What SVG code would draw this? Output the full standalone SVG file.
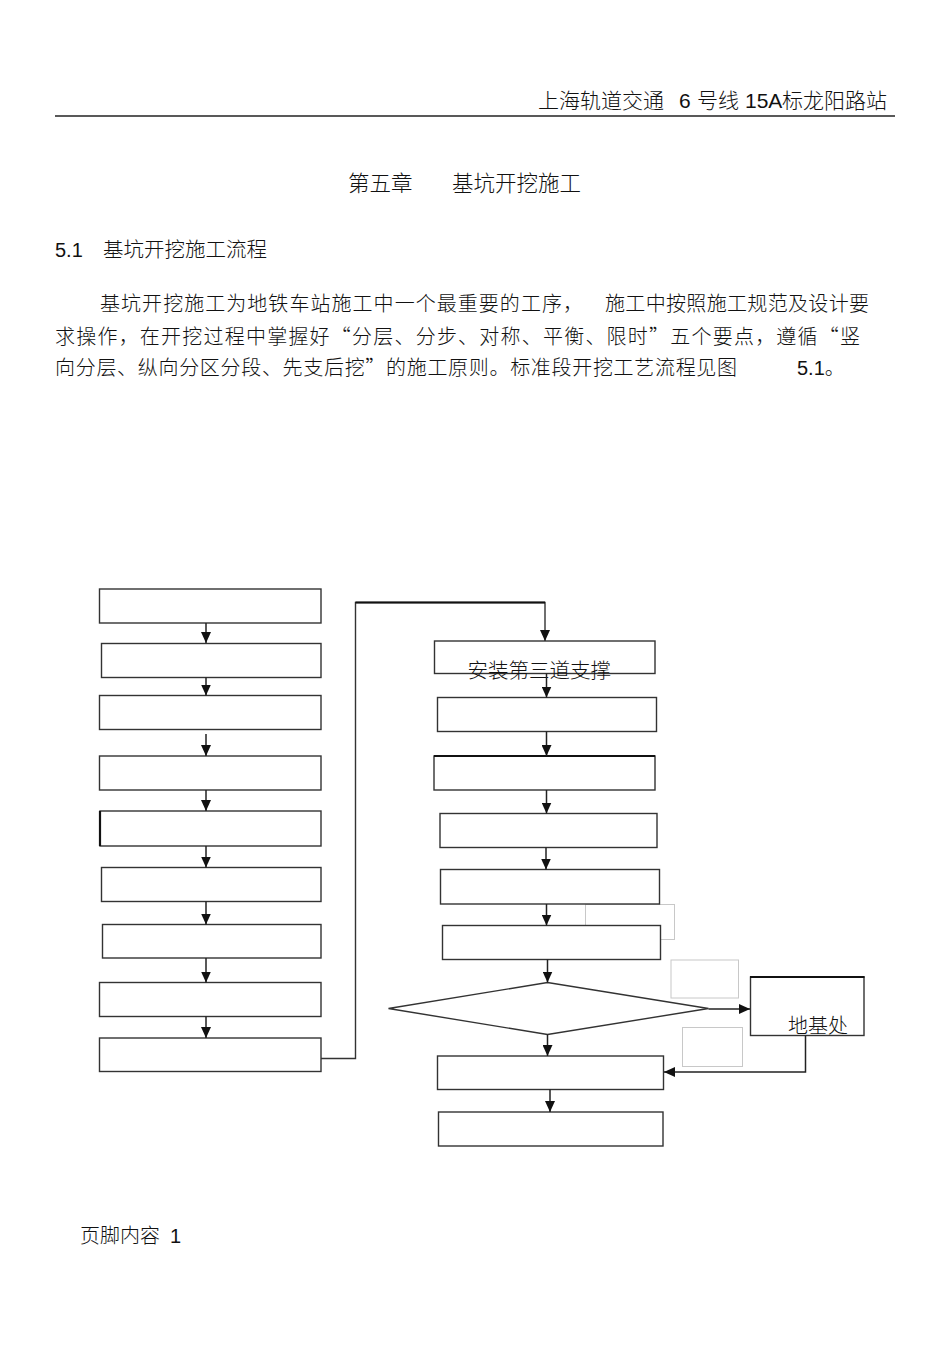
<svg xmlns="http://www.w3.org/2000/svg" width="950" height="1345" viewBox="0 0 950 1345">
<defs>
<style>
.t{font-family:"Liberation Sans","Noto Sans CJK SC",sans-serif;fill:#111;font-weight:300}
.p{font-family:"Noto Sans CJK SC",sans-serif;fill:#111;font-weight:300}
.b{fill:#fff;stroke:#333;stroke-width:1.4}
.g{fill:none;stroke:#c8c8c8;stroke-width:1}
.c{fill:none;stroke:#222;stroke-width:1.5}
</style>
<marker id="ah" markerUnits="userSpaceOnUse" markerWidth="11" markerHeight="10" refX="11" refY="5" orient="auto">
<path d="M0,0 L11,5 L0,10 z" fill="#111"/>
</marker>
</defs>
<rect width="950" height="1345" fill="#fff"/>

<g id="header">
<text class="t" x="538" y="108" font-size="21">上海轨道交通</text>
<text class="t" x="679" y="108" font-size="21">6</text>
<text class="t" x="697" y="108" font-size="21">号线</text>
<text class="t" x="745" y="108" font-size="21">15A</text>
<text class="t" x="782" y="108" font-size="21">标龙阳路站</text>
<line x1="55" y1="116" x2="895" y2="116" stroke="#222" stroke-width="1.3"/>
</g>

<g id="title">
<text class="t" x="348" y="191" font-size="21.5">第五章</text>
<text class="t" x="452" y="191" font-size="21.5">基坑开挖施工</text>
<text class="t" x="55" y="257" font-size="20">5.1</text>
<text class="t" x="103" y="257" font-size="20.5">基坑开挖施工流程</text>
</g>

<g id="paragraph">
<text class="p" x="100" y="311" font-size="20" textLength="483" lengthAdjust="spacing">基坑开挖施工为地铁车站施工中一个最重要的工序，</text>
<text class="p" x="605" y="311" font-size="20" textLength="264" lengthAdjust="spacing">施工中按照施工规范及设计要</text>
<text class="p" x="55" y="344" font-size="20" textLength="805" lengthAdjust="spacing">求操作，在开挖过程中掌握好“分层、分步、对称、平衡、限时”五个要点，遵循“竖</text>
<text class="p" x="55" y="375" font-size="20" textLength="682" lengthAdjust="spacing">向分层、纵向分区分段、先支后挖”的施工原则。标准段开挖工艺流程见图</text>
<text class="t" x="797" y="375" font-size="20">5.1。</text>
</g>

<g id="ghosts">
<rect class="g" x="585.5" y="904.5" width="89" height="35"/>
<rect class="g" x="671" y="960" width="67.5" height="38"/>
<rect class="g" x="682.5" y="1027.5" width="60" height="39"/>
</g>

<g id="L1"><rect class="b" x="99.5" y="589" width="221.5" height="34"/></g>
<g id="L2"><rect class="b" x="101.5" y="643.5" width="219.5" height="34"/></g>
<g id="L3"><rect class="b" x="99.5" y="695.5" width="221.5" height="34"/></g>
<g id="L4"><rect class="b" x="99.5" y="756" width="221.5" height="34"/></g>
<g id="L5"><rect class="b" x="100" y="811" width="221" height="35"/>
<line x1="100" y1="811" x2="100" y2="846" stroke="#111" stroke-width="2.2"/></g>
<g id="L6"><rect class="b" x="101.5" y="867.5" width="219.5" height="34"/></g>
<g id="L7"><rect class="b" x="102.5" y="924.5" width="218.5" height="33.5"/></g>
<g id="L8"><rect class="b" x="99.5" y="982.5" width="221.5" height="34" stroke-width="1.9"/></g>
<g id="L9"><rect class="b" x="99.5" y="1038" width="221.5" height="33.5"/></g>

<g id="R1"><rect class="b" x="434.5" y="641" width="220.5" height="32.5"/>
<text class="t" x="467.5" y="678" font-size="20.5">安装第三道支撑</text></g>
<g id="R2"><rect class="b" x="437.5" y="697.5" width="219" height="34"/></g>
<g id="R3"><rect class="b" x="434" y="756" width="221" height="34"/>
<line x1="434" y1="756" x2="655" y2="756" stroke="#111" stroke-width="2"/></g>
<g id="R4"><rect class="b" x="440" y="813.5" width="217" height="34"/></g>
<g id="R5"><rect class="b" x="440.5" y="869.5" width="219" height="34.5" stroke-width="1.7"/></g>
<g id="R6"><rect class="b" x="442.5" y="925.5" width="218" height="34"/></g>
<g id="D1"><polygon class="b" points="388.5,1008.5 547.5,982.5 708.5,1008.5 547.5,1034.5" stroke="#444" stroke-width="1.5"/></g>
<g id="X1"><rect class="b" x="750.5" y="977" width="113.5" height="58.5"/>
<line x1="750" y1="977" x2="864.5" y2="977" stroke="#111" stroke-width="2"/>
<text class="t" x="788" y="1033" font-size="20">地基处</text></g>
<g id="R7"><rect class="b" x="437.5" y="1056" width="226" height="33.5"/></g>
<g id="R8"><rect class="b" x="438.5" y="1112" width="224.5" height="34"/></g>

<g id="connectors">
<line class="c" x1="206" y1="623" x2="206" y2="643" marker-end="url(#ah)"/>
<line class="c" x1="206" y1="677.5" x2="206" y2="695.5" marker-end="url(#ah)"/>
<line class="c" x1="206" y1="734" x2="206" y2="756" marker-end="url(#ah)"/>
<line class="c" x1="206" y1="790" x2="206" y2="811" marker-end="url(#ah)"/>
<line class="c" x1="206" y1="846" x2="206" y2="867.5" marker-end="url(#ah)"/>
<line class="c" x1="206" y1="901.5" x2="206" y2="924.5" marker-end="url(#ah)"/>
<line class="c" x1="206" y1="958" x2="206" y2="982.5" marker-end="url(#ah)"/>
<line class="c" x1="206" y1="1016.5" x2="206" y2="1038" marker-end="url(#ah)"/>
<path d="M321,1058.5 H355.5 V602.5 H545 V641" fill="none" stroke="#333" stroke-width="1.4" marker-end="url(#ah)"/>
<line x1="355.5" y1="602.5" x2="545" y2="602.5" stroke="#111" stroke-width="2"/>
<line class="c" x1="546.5" y1="673.5" x2="546.5" y2="697.5" marker-end="url(#ah)"/>
<line class="c" x1="546.5" y1="731.5" x2="546.5" y2="756" marker-end="url(#ah)"/>
<line class="c" x1="546.5" y1="790" x2="546.5" y2="813.5" marker-end="url(#ah)"/>
<line class="c" x1="546" y1="847.5" x2="546" y2="869.5" marker-end="url(#ah)"/>
<line class="c" x1="546.5" y1="904" x2="546.5" y2="925.5" marker-end="url(#ah)"/>
<line class="c" x1="547.5" y1="959.5" x2="547.5" y2="982.5" marker-end="url(#ah)"/>
<line class="c" x1="547.5" y1="1034.5" x2="547.5" y2="1056" marker-end="url(#ah)"/>
<line class="c" x1="550" y1="1089.5" x2="550" y2="1112" marker-end="url(#ah)"/>
<line class="c" x1="708.5" y1="1009" x2="750" y2="1009" marker-end="url(#ah)"/>
<path class="c" d="M805.5,1035.5 V1072 H664" marker-end="url(#ah)"/>
</g>

<g id="footer">
<text class="t" x="80" y="1243" font-size="20">页脚内容</text>
<text class="t" x="170" y="1243" font-size="20">1</text>
</g>
</svg>
